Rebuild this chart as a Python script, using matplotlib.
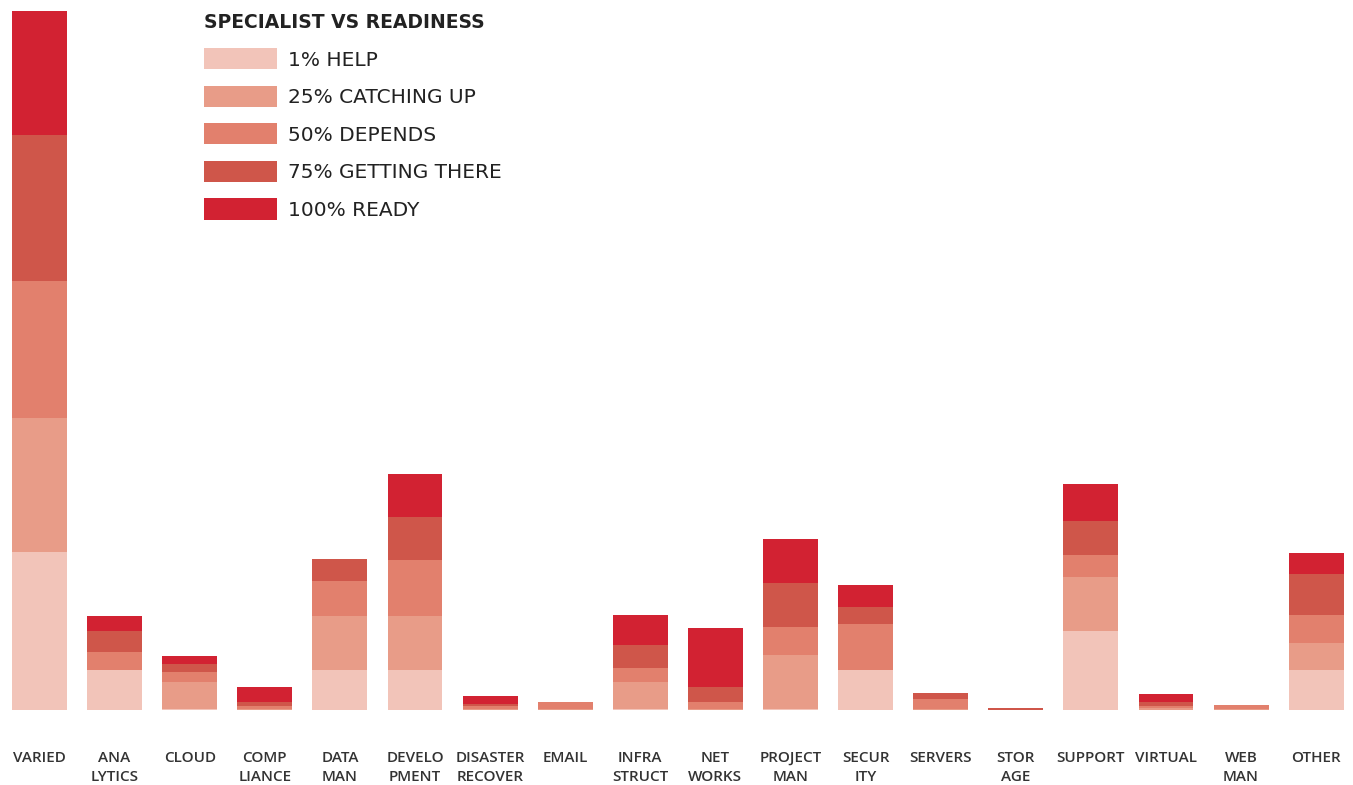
import numpy as np
import matplotlib.pyplot as plt

categories = ["VARIED", "ANA\nLYTICS", "CLOUD", "COMP\nLIANCE", "DATA\nMAN",
              "DEVELO\nPMENT", "DISASTER\nRECOVER", "EMAIL", "INFRA\nSTRUCT",
              "NET\nWORKS", "PROJECT\nMAN", "SECUR\nITY", "SERVERS", "STOR\nAGE",
              "SUPPORT", "VIRTUAL", "WEB\nMAN", "OTHER"]

series_names = ["1% HELP", "25% CATCHING UP", "50% DEPENDS",
                "75% GETTING THERE", "100% READY"]

help_vals     = [158, 40, 1, 0, 40, 40, 0, 0, 1, 0, 1, 40, 0, 0, 79, 0, 0, 40]
catching_vals = [134, 0, 27, 1, 54, 54, 1, 1, 27, 1, 54, 0, 1, 0, 54, 2, 1, 27]
depends_vals  = [137, 18, 10, 3, 35, 56, 3, 7, 14, 7, 28, 46, 10, 0, 22, 2, 4, 28]
getting_vals  = [146, 21, 8, 4, 22, 43, 2, 0, 23, 15, 44, 17, 6, 2, 34, 4, 0, 41]
ready_vals    = [124, 15, 8, 15, 0, 43, 8, 0, 30, 59, 44, 22, 0, 0, 37, 8, 0, 21]

colors = ["#F2C4B9", "#E89C88", "#E2806D", "#CF564A", "#D22232"]

fig = plt.figure(figsize=(13.53, 7.85), dpi=100)
ax = fig.add_axes([0, 75.5 / 785, 1, 1 - 75.5 / 785])

x = np.arange(len(categories))
bottom = np.zeros(len(categories))
for name, vals, col in zip(series_names,
                           [help_vals, catching_vals, depends_vals, getting_vals, ready_vals],
                           colors):
    ax.bar(x, vals, width=0.732, bottom=bottom, color=col, label=name, linewidth=0)
    bottom += np.array(vals)

ax.set_xlim(-0.526, 17.49)
ax.set_ylim(0, 709.5)
ax.set_yticks([])
ax.set_xticks(x)
ax.set_xticklabels(categories, fontsize=11, color="#333333", family="Open Sans",
                   fontweight="semibold", linespacing=1.45)
ax.tick_params(axis="x", length=0, pad=30)
for s in ax.spines.values():
    s.set_visible(False)

leg = ax.legend(loc="upper left", bbox_to_anchor=(204 / 1353, 1 - 13 / 785),
                bbox_transform=fig.transFigure, frameon=False,
                title="SPECIALIST VS READINESS",
                title_fontproperties={"weight": "bold", "size": 13.5},
                fontsize=14.5, handlelength=3.6, handleheight=1.25,
                labelspacing=0.8, handletextpad=0.55, borderpad=0,
                borderaxespad=0, alignment="left")
leg.get_title().set_color("#222222")
for t in leg.get_texts():
    t.set_color("#222222")

fig.savefig("out.png", dpi=100)
